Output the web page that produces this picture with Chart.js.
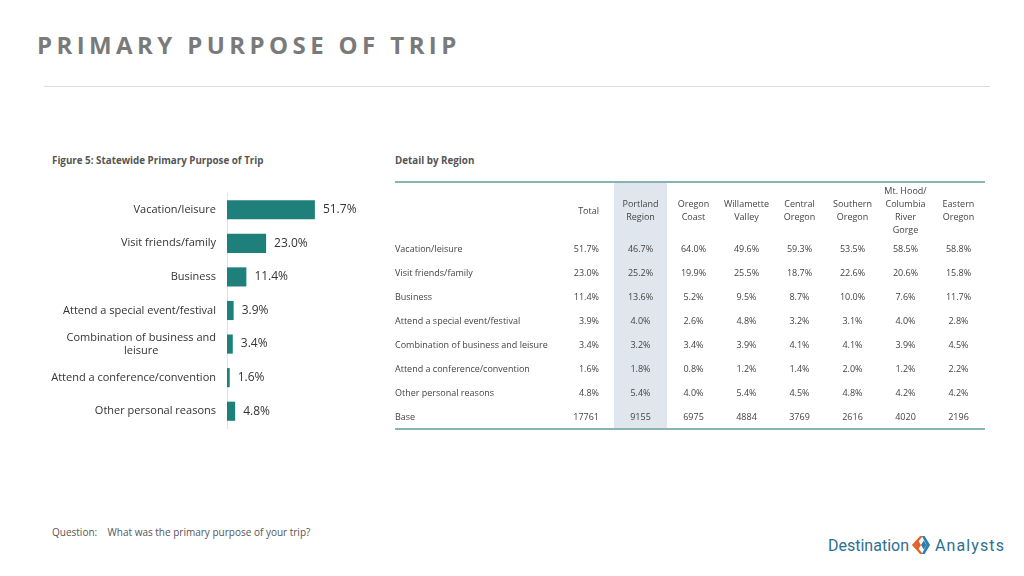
<!DOCTYPE html>
<html>
<head>
<meta charset="utf-8">
<script src="https://cdn.jsdelivr.net/npm/chart.js@4.4.1/dist/chart.umd.min.js"></script>
<style>
  body { margin: 0; width: 1024px; height: 576px; background: #fff; position: relative; overflow: hidden; font-family: "Open Sans", sans-serif; color: #444; }
  .abs { position: absolute; }
  #titulo { left: 37px; top: 28px; font-size: 24px; font-weight: 700; letter-spacing: 4.4px; color: #7a7a7a; white-space: nowrap; }
  #linea { left: 44px; top: 86px; width: 946px; height: 0; border-top: 1.5px solid #dcdcdc; }
  .sub { font-size: 9.8px; font-weight: 700; color: #555; white-space: nowrap; }
  #grafica { left: 40px; top: 185px; }
  #tabla { left: 395px; top: 181px; width: 590px; border-collapse: collapse; table-layout: fixed; font-size: 9px; color: #444; }
  #tabla { border-top: 2px solid #86b3b3; border-bottom: 2px solid #86b3b3; }
  #tabla td, #tabla th { padding: 1px 0 0 0; height: 23px; text-align: center; font-weight: 400; white-space: nowrap; }
  #tabla th { height: 51px; line-height: 13px; }
  #tabla td.lbl, #tabla th.lbl { text-align: left; }
  #tabla .tot { text-align: right; padding-right: 15px; }
  #tabla .sh { background: #dfe6ee; }
  #pregunta { left: 52px; top: 525px; font-size: 10px; color: #555; white-space: nowrap; }
  #logo { left: 828px; top: 533px; font-family: Roboto, sans-serif; font-size: 16px; color: #2e6f8f; white-space: nowrap; display: flex; align-items: center; }
</style>
</head>
<body>
<div id="titulo" class="abs">PRIMARY PURPOSE OF TRIP</div>
<div id="linea" class="abs"></div>
<div class="abs sub" style="left:52px; top:154px;">Figure 5: Statewide Primary Purpose of Trip</div>
<div class="abs sub" style="left:395px; top:154px;">Detail by Region</div>
<canvas id="grafica" class="abs" width="360" height="250"></canvas>
<table id="tabla" class="abs"></table>
<div id="pregunta" class="abs">Question:&nbsp;&nbsp;&nbsp; What was the primary purpose of your trip?</div>
<div id="logo" class="abs">
  <span>Destination</span>
  <svg width="20" height="24" viewBox="0 0 22 24" style="margin:0 4px 0 2px">
    <polygon points="10,2 13,2 5,12 13,22 10,22 1,12" fill="#e0622c"/>
    <polygon points="8,7 11,12 8,17 5,12" fill="#e0622c"/>
    <polygon points="12,2 15,2 21,12 15,22 12,22 17,12" fill="#2e7fb0"/>
    <polygon points="14,7 17,12 14,17 11,12" fill="#2e7fb0"/>
  </svg>
  <span style="letter-spacing:1.1px">Analysts</span>
</div>

<script>
// datos de la grafica estatal
const categorias = ['Vacation/leisure', 'Visit friends/family', 'Business', 'Attend a special event/festival',
  ['Combination of business and', 'leisure'], 'Attend a conference/convention', 'Other personal reasons'];
const valoresEstatal = [51.7, 23.0, 11.4, 3.9, 3.4, 1.6, 4.8];

// datos de la tabla por region
const encabezados = [['Total'], ['Portland', 'Region'], ['Oregon', 'Coast'], ['Willamette', 'Valley'], ['Central', 'Oregon'],
  ['Southern', 'Oregon'], ['Mt. Hood/', 'Columbia', 'River', 'Gorge'], ['Eastern', 'Oregon']];
const filasTabla = ['Vacation/leisure', 'Visit friends/family', 'Business', 'Attend a special event/festival',
  'Combination of business and leisure', 'Attend a conference/convention', 'Other personal reasons', 'Base'];
const total = ['51.7%', '23.0%', '11.4%', '3.9%', '3.4%', '1.6%', '4.8%', '17761'];
const portland = ['46.7%', '25.2%', '13.6%', '4.0%', '3.2%', '1.8%', '5.4%', '9155'];
const oregonCoast = ['64.0%', '19.9%', '5.2%', '2.6%', '3.4%', '0.8%', '4.0%', '6975'];
const willamette = ['49.6%', '25.5%', '9.5%', '4.8%', '3.9%', '1.2%', '5.4%', '4884'];
const central = ['59.3%', '18.7%', '8.7%', '3.2%', '4.1%', '1.4%', '4.5%', '3769'];
const southern = ['53.5%', '22.6%', '10.0%', '3.1%', '4.1%', '2.0%', '4.8%', '2616'];
const mtHood = ['58.5%', '20.6%', '7.6%', '4.0%', '3.9%', '1.2%', '4.2%', '4020'];
const eastern = ['58.8%', '15.8%', '11.7%', '2.8%', '4.5%', '2.2%', '4.2%', '2196'];

const columnas = [total, portland, oregonCoast, willamette, central, southern, mtHood, eastern];
const anchos = [170, 49, 53, 53, 53, 53, 53, 53, 53];

function armarTabla() {
    const t = document.getElementById('tabla');
    const cg = document.createElement('colgroup');
    anchos.forEach(w => { const c = document.createElement('col'); c.style.width = w + 'px'; cg.appendChild(c); });
    t.appendChild(cg);

    const cls = i => (i === 0 ? 'tot' : '') + (i === 1 ? ' sh' : '');
    let h = '<tr><th class="lbl"></th>';
    encabezados.forEach((e, i) => { h += `<th class="${cls(i)}">${e.join('<br>')}</th>`; });
    h += '</tr>';
    filasTabla.forEach((f, r) => {
        h += `<tr><td class="lbl">${f}</td>`;
        columnas.forEach((col, i) => { h += `<td class="${cls(i)}">${col[r]}</td>`; });
        h += '</tr>';
    });
    t.insertAdjacentHTML('beforeend', h);
}

// etiquetas del eje y, multilinea centradas y bloque alineado a la derecha
const etiquetasY = {
    id: 'etiquetasY',
    afterDraw(ch) {
        const { ctx, chartArea } = ch;
        const y = ch.scales.y;
        ctx.save();
        ctx.font = '11px "Open Sans", sans-serif';
        ctx.fillStyle = '#333';
        ctx.textAlign = 'center';
        ctx.textBaseline = 'middle';
        categorias.forEach((c, i) => {
            const lineas = Array.isArray(c) ? c : [c];
            const maxW = Math.max(...lineas.map(l => ctx.measureText(l).width));
            const xc = chartArea.left - 11 - maxW / 2;
            const yc = y.getPixelForTick(i);
            lineas.forEach((l, j) => ctx.fillText(l, xc, yc + (j - (lineas.length - 1) / 2) * 13));
        });
        ctx.restore();
    }
};

const valoresBarras = {
    id: 'valoresBarras',
    afterDatasetsDraw(ch) {
        const { ctx } = ch;
        const meta = ch.getDatasetMeta(0);
        ctx.save();
        ctx.font = '12px "Open Sans", sans-serif';
        ctx.fillStyle = '#333';
        ctx.textAlign = 'left';
        ctx.textBaseline = 'middle';
        meta.data.forEach((b, i) => ctx.fillText(valoresEstatal[i].toFixed(1) + '%', b.x + 8, b.y));
        ctx.restore();
    }
};

armarTabla();

new Chart(document.getElementById('grafica'), {
    type: 'bar',
    data: {
        labels: categorias,
        datasets: [{
            data: valoresEstatal,
            backgroundColor: '#1f7f7a',
            barPercentage: 0.57,
            categoryPercentage: 1
        }]
    },
    options: {
        indexAxis: 'y',
        responsive: false,
        animation: false,
        devicePixelRatio: 1,
        layout: { padding: { top: 8, bottom: 7, right: 3 } },
        plugins: { legend: { display: false }, tooltip: { enabled: false } },
        scales: {
            x: { display: false, min: 0, max: 100 },
            y: {
                ticks: { display: false },
                grid: { display: false },
                border: { display: true, color: '#e3e3e3' },
                afterFit(s) { s.width = 187; }
            }
        }
    },
    plugins: [etiquetasY, valoresBarras]
});
</script>
</body>
</html>
